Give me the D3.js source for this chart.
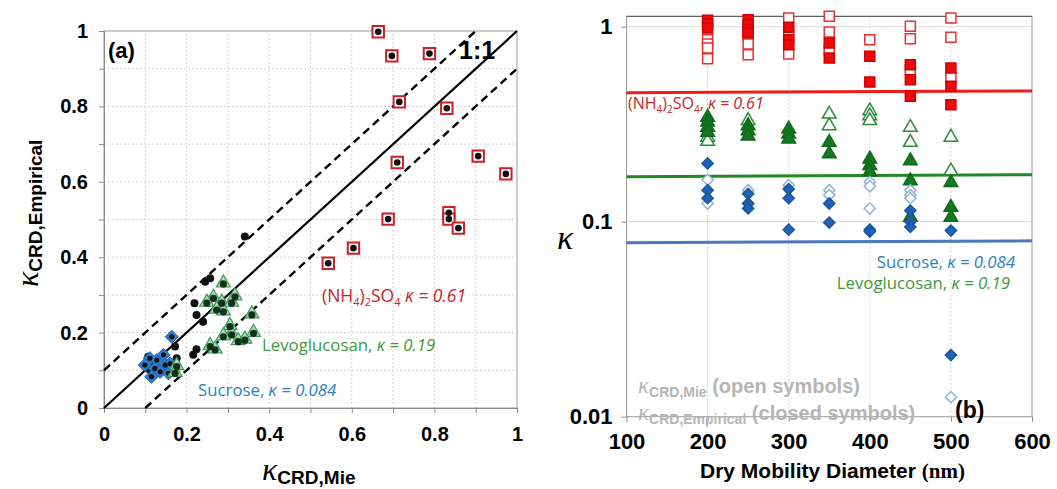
<!DOCTYPE html>
<html>
<head>
<meta charset="utf-8">
<script src="https://cdn.jsdelivr.net/npm/d3@7"></script>
<style>
  body { margin: 0; background: #fff; }
  svg { display: block; font-family: Arial, "Liberation Sans", sans-serif; }
</style>
</head>
<body>
<svg id="chart" width="1057" height="489"></svg>
<script>
// ---------- panel (a) data: [kappa CRD,Mie, kappa CRD,Empirical] ----------
const aTicks = [0, 0.1, 0.2, 0.3, 0.4, 0.5, 0.6, 0.7, 0.8, 0.9, 1];
const sulfateA = [
  [0.664, 0.998], [0.697, 0.934], [0.788, 0.940], [0.715, 0.812], [0.830, 0.795],
  [0.710, 0.651], [0.906, 0.668], [0.973, 0.621], [0.688, 0.501], [0.835, 0.518],
  [0.835, 0.501], [0.858, 0.477], [0.604, 0.424], [0.543, 0.384]
];
const levoA = [
  [0.289, 0.329], [0.265, 0.291], [0.249, 0.278], [0.285, 0.278], [0.309, 0.278],
  [0.317, 0.295], [0.273, 0.260], [0.289, 0.255], [0.358, 0.247], [0.305, 0.216],
  [0.309, 0.194], [0.289, 0.189], [0.362, 0.198], [0.325, 0.176], [0.341, 0.180],
  [0.257, 0.163], [0.269, 0.154], [0.176, 0.110], [0.172, 0.092]
];
const sucroseA = [
  [0.164, 0.189], [0.111, 0.132], [0.128, 0.127], [0.144, 0.141], [0.148, 0.114],
  [0.123, 0.105], [0.136, 0.096], [0.115, 0.083], [0.156, 0.092], [0.160, 0.118],
  [0.099, 0.114]
];
const otherA = [
  [0.341, 0.455], [0.257, 0.344], [0.245, 0.335], [0.219, 0.278], [0.224, 0.247],
  [0.240, 0.229], [0.172, 0.163], [0.224, 0.156], [0.216, 0.141], [0.176, 0.132],
  [0.172, 0.118], [0.107, 0.136], [0.111, 0.101]
];
const oneToOne = [[0, 0], [1, 1]];
const upperBound = [[0, 0.1], [0.9, 1]];
const lowerBound = [[0.1, 0], [1, 0.9]];

// ---------- panel (b) data: [dry diameter nm, kappa] ----------
const bxTicks = [100, 200, 300, 400, 500, 600];
const byTicks = [0.01, 0.1, 1];
const sulfateMie = [
  [200, 0.858], [200, 0.815], [200, 0.778], [200, 0.685],
  [250, 0.893], [250, 0.815], [250, 0.719],
  [300, 1.108], [300, 0.917], [300, 0.724],
  [350, 1.13], [350, 0.939], [350, 0.762],
  [400, 0.858],
  [450, 1.005], [450, 0.868], [450, 0.602],
  [500, 1.108], [500, 0.882], [500, 0.55]
];
const sulfateEmp = [
  [200, 1.08], [200, 1.03], [200, 0.985],
  [250, 1.086], [250, 1.024], [250, 0.965], [250, 0.93],
  [300, 0.993], [300, 0.858], [300, 0.809],
  [350, 0.825], [350, 0.69],
  [400, 0.705], [400, 0.52],
  [450, 0.638], [450, 0.535], [450, 0.44],
  [500, 0.614], [500, 0.495], [500, 0.398]
];
const levoMie = [
  [200, 0.268], [200, 0.255],
  [250, 0.326],
  [350, 0.352], [350, 0.307],
  [400, 0.366], [400, 0.345], [400, 0.326],
  [450, 0.301], [450, 0.252],
  [500, 0.268], [500, 0.180]
];
const levoEmp = [
  [200, 0.339], [200, 0.320], [200, 0.301], [200, 0.284],
  [250, 0.307], [250, 0.289], [250, 0.272],
  [300, 0.295], [300, 0.278], [300, 0.262],
  [350, 0.252], [350, 0.220],
  [400, 0.207], [400, 0.192], [400, 0.178],
  [450, 0.203], [450, 0.160], [450, 0.104],
  [500, 0.157], [500, 0.117], [500, 0.104]
];
const sucroseMie = [
  [200, 0.164], [200, 0.124],
  [250, 0.145],
  [300, 0.154],
  [350, 0.145], [350, 0.137],
  [400, 0.160], [400, 0.152], [400, 0.117],
  [450, 0.145], [450, 0.137], [450, 0.132],
  [500, 0.0126]
];
const sucroseEmp = [
  [200, 0.199], [200, 0.145], [200, 0.132],
  [250, 0.139], [250, 0.124], [250, 0.117],
  [300, 0.147], [300, 0.132], [300, 0.091],
  [350, 0.124], [350, 0.099],
  [400, 0.091], [400, 0.089],
  [450, 0.114], [450, 0.100], [450, 0.094],
  [500, 0.090], [500, 0.0207]
];
// bulk kappa reference lines, value at 100 nm and 600 nm
const sulfateLine = [[100, 0.459], [600, 0.468]];
const levoLine = [[100, 0.170], [600, 0.174]];
const sucroseLine = [[100, 0.078], [600, 0.0798]];

const svg = d3.select('#chart');
const sym = (type, size) => d3.symbol().type(type).size(size)();
const diamond = d3.symbolDiamond2 || d3.symbolSquare;
const serif = '"Liberation Serif", "Times New Roman", serif';
const calibri = '"Open Sans", sans-serif';

// ================= panel (a) =================
const xA = d3.scaleLinear().domain([0, 1]).range([104, 517]);
const yA = d3.scaleLinear().domain([0, 1]).range([408, 31]);
const gA = svg.append('g');

// dotted grid every 0.1
gA.selectAll('.vgrid').data(aTicks.slice(1, -1)).enter().append('line')
  .attr('x1', d => xA(d)).attr('x2', d => xA(d))
  .attr('y1', yA(0)).attr('y2', yA(1))
  .attr('stroke', '#d0d0d0').attr('stroke-dasharray', '2,2');
gA.selectAll('.hgrid').data(aTicks.slice(1, -1)).enter().append('line')
  .attr('x1', xA(0)).attr('x2', xA(1))
  .attr('y1', d => yA(d)).attr('y2', d => yA(d))
  .attr('stroke', '#d0d0d0').attr('stroke-dasharray', '2,2');
// frame
gA.append('rect').attr('x', xA(0)).attr('y', yA(1))
  .attr('width', xA(1) - xA(0)).attr('height', yA(0) - yA(1))
  .attr('fill', 'none').attr('stroke', '#9a9a9a');

const labelA = d => (Math.round(d * 10) % 2 === 0 ? d3.format('~g')(d) : '');
const axA_x = gA.append('g').attr('transform', `translate(0,${yA(0)})`)
  .call(d3.axisBottom(xA).tickValues(aTicks).tickSize(5).tickPadding(14).tickFormat(labelA));
const axA_y = gA.append('g').attr('transform', `translate(${xA(0)},0)`)
  .call(d3.axisLeft(yA).tickValues(aTicks).tickSize(5).tickPadding(11).tickFormat(labelA));
[axA_x, axA_y].forEach(ax => {
  ax.selectAll('path, line').attr('stroke', '#8a8a8a');
  ax.selectAll('text').attr('font-size', 20).attr('font-weight', 'bold').attr('fill', '#000');
});

// 1:1 and +-0.1 lines
const lineA = d3.line().x(d => xA(d[0])).y(d => yA(d[1]));
gA.append('path').attr('d', lineA(oneToOne)).attr('stroke', '#000').attr('stroke-width', 2.2).attr('fill', 'none');
[upperBound, lowerBound].forEach(l => {
  gA.append('path').attr('d', lineA(l)).attr('stroke', '#000').attr('stroke-width', 2.4)
    .attr('stroke-dasharray', '8,5').attr('fill', 'none');
});

// markers
const tA = d => `translate(${xA(d[0])},${yA(d[1])})`;
gA.selectAll('.oth').data(otherA).enter().append('circle')
  .attr('transform', tA).attr('r', 4).attr('fill', '#111');
gA.selectAll('.suc').data(sucroseA).enter().append('path')
  .attr('transform', tA).attr('d', sym(diamond, 110))
  .attr('fill', '#2f7fd0').attr('stroke', '#1b5fa8').attr('stroke-width', 1);
gA.selectAll('.sucd').data(sucroseA).enter().append('circle')
  .attr('transform', tA).attr('r', 2.6).attr('fill', '#111');
gA.selectAll('.lev').data(levoA).enter().append('path')
  .attr('transform', d => `translate(${xA(d[0])},${yA(d[1]) - 1})`)
  .attr('d', sym(d3.symbolTriangle, 85))
  .attr('fill', '#a8dcb4').attr('stroke', '#3d9a55').attr('stroke-width', 1.2);
gA.selectAll('.levd').data(levoA).enter().append('circle')
  .attr('transform', tA).attr('r', 3.6).attr('fill', '#12301a');
gA.selectAll('.sul').data(sulfateA).enter().append('path')
  .attr('transform', tA).attr('d', sym(d3.symbolSquare, 130))
  .attr('fill', '#fff').attr('stroke', '#c8202a').attr('stroke-width', 2);
gA.selectAll('.suld').data(sulfateA).enter().append('circle')
  .attr('transform', tA).attr('r', 3.3).attr('fill', '#111');

// texts
gA.append('text').attr('x', 108).attr('y', 58).attr('font-size', 22).attr('font-weight', 'bold').text('(a)');
gA.append('text').attr('x', 459).attr('y', 59).attr('font-size', 25).attr('font-weight', 'bold').text('1:1');

const sulfateText = (g, x, y, size, comma) => {
  const t = g.append('text').attr('x', x).attr('y', y).attr('fill', '#c0282d')
    .attr('font-family', calibri).attr('font-size', size);
  const sub = Math.round(size * 0.65);
  t.append('tspan').text('(NH');
  t.append('tspan').attr('font-size', sub).attr('dy', 4).text('4');
  t.append('tspan').attr('dy', -4).text(')');
  t.append('tspan').attr('font-size', sub).attr('dy', 4).text('2');
  t.append('tspan').attr('dy', -4).text('SO');
  t.append('tspan').attr('font-size', sub).attr('dy', 4).text('4');
  t.append('tspan').attr('dy', -4).text(comma ? ', ' : ' ');
  t.append('tspan').attr('font-style', 'italic').text('κ = 0.61');
  return t;
};
const namedText = (g, x, y, size, color, name, value, anchor) => {
  const t = g.append('text').attr('x', x).attr('y', y).attr('fill', color)
    .attr('text-anchor', anchor || 'start').attr('font-family', calibri).attr('font-size', size);
  t.append('tspan').text(name + ', ');
  t.append('tspan').attr('font-style', 'italic').text('κ = ' + value);
  return t;
};
sulfateText(gA, 322, 302, 17.5, false);
namedText(gA, 262, 351, 16.8, '#3c9a3c', 'Levoglucosan', '0.19');
namedText(gA, 198, 396, 16.8, '#2b7fc4', 'Sucrose', '0.084');

// axis titles
const kappaLabel = (g, x, y, sub, color, kSize, subSize) => {
  const t = g.append('text').attr('x', x).attr('y', y).attr('fill', color);
  t.append('tspan').attr('font-family', serif)
    .attr('font-style', 'italic').attr('font-size', kSize).text('κ');
  t.append('tspan').attr('font-weight', 'bold').attr('font-size', subSize).attr('dy', 4).text(sub);
  return t;
};
kappaLabel(gA, 262, 480, 'CRD,Mie', '#000', 32, 19);
const yTitleA = gA.append('g').attr('transform', 'translate(38,287) rotate(-90)');
kappaLabel(yTitleA, 0, 0, 'CRD,Empirical', '#000', 32, 19);

// ================= panel (b) =================
const xB = d3.scaleLinear().domain([100, 600]).range([626.5, 1032]);
const yB = d3.scaleLog().domain([0.01, 1]).range([416.7, 26.7]);
const topB = yB(1.13);
const gB = svg.append('g');

gB.selectAll('.vgridb').data(bxTicks.slice(1, -1)).enter().append('line')
  .attr('x1', d => xB(d)).attr('x2', d => xB(d))
  .attr('y1', yB(0.01)).attr('y2', topB)
  .attr('stroke', '#d0d0d0').attr('stroke-dasharray', '2,2');
gB.selectAll('.hgridb').data(byTicks.slice(1)).enter().append('line')
  .attr('x1', xB(100)).attr('x2', xB(600))
  .attr('y1', d => yB(d)).attr('y2', d => yB(d))
  .attr('stroke', '#dcdcdc');
gB.append('rect').attr('x', xB(100)).attr('y', topB)
  .attr('width', xB(600) - xB(100)).attr('height', yB(0.01) - topB)
  .attr('fill', 'none').attr('stroke', '#9a9a9a');
gB.append('line').attr('x1', xB(100)).attr('x2', xB(600)).attr('y1', topB).attr('y2', topB)
  .attr('stroke', '#555');

const axB_x = gB.append('g').attr('transform', `translate(0,${yB(0.01)})`)
  .call(d3.axisBottom(xB).tickValues(bxTicks).tickSize(5).tickPadding(12).tickFormat(d3.format('d')));
const axB_y = gB.append('g').attr('transform', `translate(${xB(100)},0)`)
  .call(d3.axisLeft(yB).tickValues(byTicks).tickSize(5).tickPadding(9).tickFormat(d3.format('~g')));
[axB_x, axB_y].forEach(ax => {
  ax.selectAll('path').remove();
  ax.selectAll('line').attr('stroke', '#8a8a8a');
  ax.selectAll('text').attr('font-size', 22).attr('font-weight', 'bold').attr('fill', '#000');
});

// bulk kappa lines
const lineB = d3.line().x(d => xB(d[0])).y(d => yB(d[1]));
[[sulfateLine, '#ee1c1c'], [levoLine, '#1f8a1f'], [sucroseLine, '#4a78bd']].forEach(([l, c]) => {
  gB.append('path').attr('d', lineB(l)).attr('stroke', c).attr('stroke-width', 3).attr('fill', 'none');
});

const drawB = (data, type, size, fill, stroke, dy) => {
  gB.append('g').selectAll('path').data(data).enter().append('path')
    .attr('transform', d => `translate(${xB(d[0])},${yB(d[1]) + (dy || 0)})`)
    .attr('d', sym(type, size))
    .attr('fill', fill).attr('stroke', stroke).attr('stroke-width', 1.5);
};
drawB(sulfateMie, d3.symbolSquare, 100, '#fff', '#e53030');
drawB(sulfateEmp, d3.symbolSquare, 100, '#ee0a0a', '#d00000');
drawB(levoMie, d3.symbolTriangle, 80, '#fff', '#2e8b3a', -1);
drawB(levoEmp, d3.symbolTriangle, 80, '#157a1f', '#0f6a18', -1);
drawB(sucroseMie, diamond, 80, '#fff', '#8fb2db');
drawB(sucroseEmp, diamond, 80, '#1f62b8', '#1a55a0');

// texts
sulfateText(gB, 628, 109, 16, true);
namedText(gB, 1015, 268, 16.8, '#2b7fc4', 'Sucrose', '0.084', 'end');
namedText(gB, 1010, 289, 16.8, '#3c9a3c', 'Levoglucosan', '0.19', 'end');

const legMie = kappaLabel(gB, 638, 393, 'CRD,Mie', '#b5b5b5', 23, 14);
legMie.append('tspan').attr('font-weight', 'bold').attr('font-size', 20).attr('dy', -4).text(' (open symbols)');
const legEmp = kappaLabel(gB, 638, 420, 'CRD,Empirical', '#b5b5b5', 23, 14);
legEmp.append('tspan').attr('font-weight', 'bold').attr('font-size', 20).attr('dy', -4).text(' (closed symbols)');

gB.append('text').attr('x', 955).attr('y', 418).attr('font-size', 23).attr('font-weight', 'bold').text('(b)');

gB.append('text').attr('x', 557).attr('y', 249)
  .attr('font-family', serif).attr('font-style', 'italic').attr('font-size', 34).text('κ');

const xTitleB = gB.append('text').attr('x', 700).attr('y', 478).attr('font-weight', 'bold').attr('font-size', 21);
xTitleB.append('tspan').text('Dry Mobility Diameter ');
xTitleB.append('tspan').attr('font-family', serif).text('(nm)');
</script>
</body>
</html>
